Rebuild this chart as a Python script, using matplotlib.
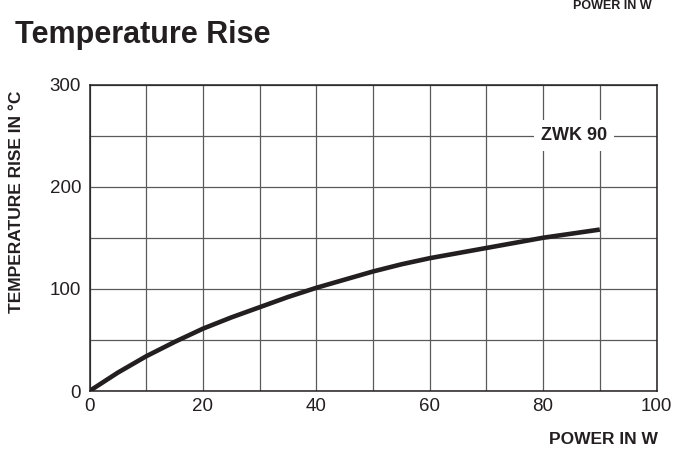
import matplotlib
matplotlib.use("Agg")
import matplotlib.pyplot as plt

# values (every 5 W)
power = [0, 5, 10, 15, 20, 25, 30, 35, 40, 45, 50, 55, 60, 65, 70, 75, 80, 85, 90]
temp_rise = [0, 18, 34, 48, 61, 72, 82, 92, 101, 109, 117, 124, 130, 135, 140, 145, 150, 154, 158]
x_ticks = [0, 20, 40, 60, 80, 100]
y_ticks = [0, 100, 200, 300]

plt.rcParams['font.family'] = ['Liberation Sans', 'DejaVu Sans']
ink = '#231f20'

fig = plt.figure(figsize=(6.75, 4.5), dpi=100)
ax = fig.add_axes([0.1326, 0.1311, 0.84, 0.6811])

ax.plot(power, temp_rise, color=ink, linewidth=3.3, solid_capstyle='butt',
        solid_joinstyle='round', zorder=3)

ax.set_xlim(0, 100)
ax.set_ylim(0, 300)
ax.set_xticks(range(0, 101, 10))
ax.set_yticks(range(0, 301, 50))
ax.set_xticklabels([str(v) if v in x_ticks else '' for v in range(0, 101, 10)])
ax.set_yticklabels([str(v) if v in y_ticks else '' for v in range(0, 301, 50)])
ax.tick_params(length=0, labelsize=13.5, colors=ink)
ax.tick_params(axis='y', pad=6)
ax.tick_params(axis='x', pad=5)
ax.grid(True, color='#5a5a5a', linewidth=0.9)
ax.set_axisbelow(True)
for s in ax.spines.values():
    s.set_color(ink)
    s.set_linewidth(1.1)

ax.text(85.4, 250, 'ZWK 90', ha='center', va='center', fontsize=13, fontweight='bold',
        color=ink, bbox=dict(facecolor='white', edgecolor='none', pad=5), zorder=4)

fig.text(15 / 675, 1 - 35 / 450, 'Temperature Rise', fontsize=22, fontweight='bold',
         color=ink, va='center', ha='left')
fig.text(658 / 675, 1 - 440 / 450, 'POWER IN W', fontsize=12.5, fontweight='bold',
         color=ink, va='center', ha='right')
fig.text(17 / 675, 1 - 202 / 450, 'TEMPERATURE RISE IN °C', fontsize=12.5, fontweight='bold',
         color=ink, va='center', ha='center', rotation=90)
# header text at the top edge
fig.text(652 / 675, 1.0, 'POWER IN W', fontsize=9, fontweight='bold',
         color=ink, va='top', ha='right')

fig.savefig('out.png', dpi=100, facecolor='white')
